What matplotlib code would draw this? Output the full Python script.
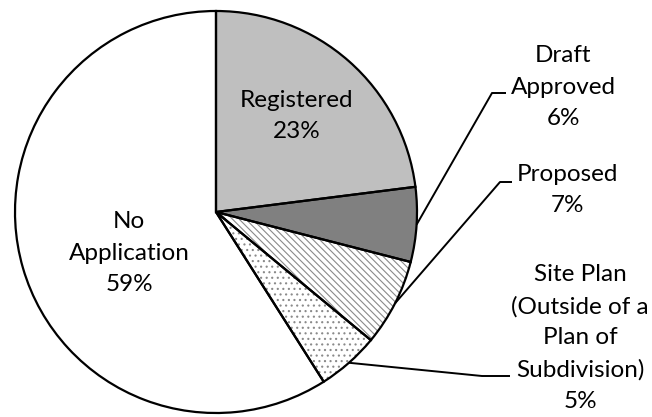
import numpy as np
import matplotlib
matplotlib.use("Agg")
import matplotlib.pyplot as plt

labels = ["Registered", "Draft\nApproved", "Proposed",
          "Site Plan\n(Outside of a\nPlan of\nSubdivision)", "No\nApplication"]
values = [23, 6, 7, 5, 59]
colors = ["#BFBFBF", "#808080", "#FFFFFF", "#FFFFFF", "#FFFFFF"]
hatches = [None, None, "\\\\\\\\\\", "...", None]

plt.rcParams['font.family'] = ['Lato', 'DejaVu Sans']
plt.rcParams['hatch.linewidth'] = 0.8
plt.rcParams['hatch.color'] = '#8A8A8A'

W, H = 652, 417
fig = plt.figure(figsize=(W / 100, H / 100), dpi=100)
ax = fig.add_axes([0, 0, 1, 1])

cx, cy, R = 216, 205, 201

# fill with hatches
wedges, _ = ax.pie(values, colors=colors, startangle=90, counterclock=False,
                   center=(cx, cy), radius=R, frame=True,
                   wedgeprops=dict(linewidth=0, edgecolor='#8A8A8A'))
for w, h in zip(wedges, hatches):
    if h:
        w.set_hatch(h)
# outlines
wedges2, _ = ax.pie(values, colors=['none'] * 5, startangle=90, counterclock=False,
                    center=(cx, cy), radius=R, frame=True,
                    wedgeprops=dict(linewidth=1.6, edgecolor='black', fill=False))
ax.set_xlim(0, W)
ax.set_ylim(0, H)
ax.set_aspect('equal')
ax.axis('off')

fs = 17.5
ls = 1.6
pct = [f"{v}%" for v in values]

# inside labels
ax.text(297, H - 116, f"{labels[0]}\n{pct[0]}", ha='center', va='center',
        fontsize=fs, linespacing=ls)
ax.text(129, H - 253, f"{labels[4]}\n{pct[4]}", ha='center', va='center',
        fontsize=fs, linespacing=ls)

# outside labels with leader lines
outside = [
    (1, (563, H - 87), (492, H - 93), 506),
    (2, (567, H - 190), (500, H - 182), 512),
    (3, (580, H - 338), (482, H - 376), 510),
]
for idx, tpos, knee, xend in outside:
    w = wedges[idx]
    mid = np.deg2rad((w.theta1 + w.theta2) / 2)
    ex, ey = cx + R * np.cos(mid), cy + R * np.sin(mid)
    ax.plot([ex, knee[0], xend], [ey, knee[1], knee[1]], color='black', lw=1.4,
            solid_capstyle='butt')
    ax.text(tpos[0], tpos[1], f"{labels[idx]}\n{pct[idx]}", ha='center',
            va='center', fontsize=fs, linespacing=ls)

fig.savefig("out.png", dpi=100)
